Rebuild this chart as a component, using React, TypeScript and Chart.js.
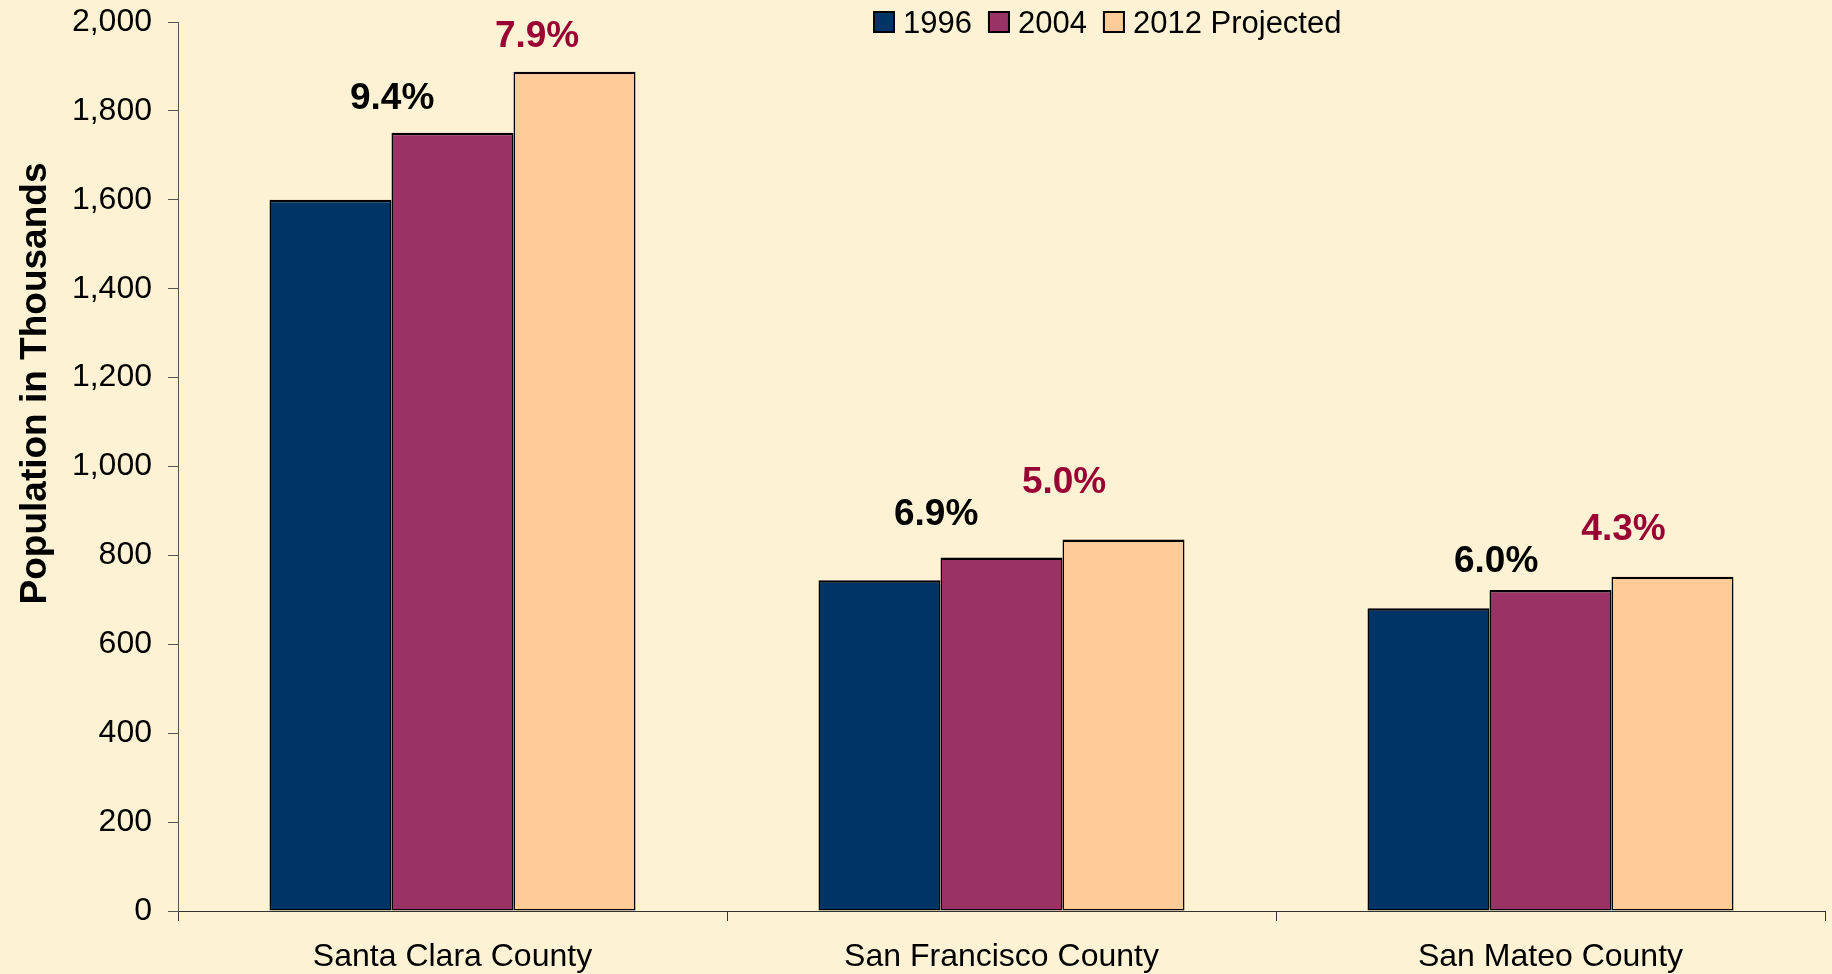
import React, { useEffect, useRef } from "react";
import { Chart, registerables } from "chart.js";

Chart.register(...registerables);

// ---------- data ----------
const categories = ["Santa Clara County", "San Francisco County", "San Mateo County"];
const seriesNames = ["1996", "2004", "2012 Projected"];
const pop1996 = [1600, 744, 681];
const pop2004 = [1751, 795, 722];
const pop2012 = [1888, 836, 752];

const yTickLabels = ["0", "200", "400", "600", "800", "1,000", "1,200", "1,400", "1,600", "1,800", "2,000"];
const yMax = 2000;
const yStep = 200;
const yTitle = "Population in Thousands";

// growth annotations: text, anchor level (in thousands), horizontal shift (in category units)
const growth96to04 = ["9.4%", "6.9%", "6.0%"];
const growth96to04Level = [1828, 891, 785];
const growth96to04Shift = [-0.11, -0.119, -0.099];
const growth04to12 = ["7.9%", "5.0%", "4.3%"];
const growth04to12Level = [1966, 964, 857];
const growth04to12Shift = [0.154, 0.114, 0.133];

// ---------- styles ----------
const BG = "#FEF2D4";
const COLORS = ["#003366", "#993366", "#FFCC99"];
const RED = "#990033";
const FONT = "'Liberation Sans', Arial, sans-serif";

const growthLabelsPlugin = {
  id: "growthLabels",
  afterDatasetsDraw(chart: any) {
    const { ctx } = chart;
    const x = chart.scales.x;
    const y = chart.scales.y;
    ctx.save();
    ctx.font = `bold 37px ${FONT}`;
    ctx.textAlign = "center";
    ctx.textBaseline = "middle";
    const draw = (texts: string[], levels: number[], shifts: number[], color: string) => {
      texts.forEach((t, i) => {
        ctx.fillStyle = color;
        ctx.fillText(t, x.getPixelForValue(i + shifts[i]), y.getPixelForValue(levels[i]));
      });
    };
    draw(growth96to04, growth96to04Level, growth96to04Shift, "#000000");
    draw(growth04to12, growth04to12Level, growth04to12Shift, RED);
    ctx.restore();
  },
};

const legendPlugin = {
  id: "customLegend",
  afterDraw(chart: any) {
    const { ctx } = chart;
    ctx.save();
    ctx.font = `31px ${FONT}`;
    ctx.textAlign = "left";
    ctx.textBaseline = "alphabetic";
    let cx = 873;
    const top = 11;
    const size = 22;
    chart.data.datasets.forEach((ds: any) => {
      ctx.fillStyle = ds.backgroundColor;
      ctx.fillRect(cx, top, size, size);
      ctx.strokeStyle = "#000000";
      ctx.lineWidth = 2;
      ctx.strokeRect(cx + 1, top + 1, size - 2, size - 2);
      ctx.fillStyle = "#000000";
      ctx.fillText(ds.label, cx + size + 8, 33);
      cx += size + 8 + ctx.measureText(ds.label).width + 16;
    });
    ctx.restore();
  },
};

const yTitlePlugin = {
  id: "yTitle",
  afterDraw(chart: any) {
    const { ctx } = chart;
    ctx.save();
    ctx.translate(36, 383.5);
    ctx.rotate(-Math.PI / 2);
    ctx.font = `bold 37px ${FONT}`;
    ctx.textAlign = "center";
    ctx.textBaseline = "middle";
    ctx.fillStyle = "#000000";
    ctx.fillText(yTitle, 0, 0);
    ctx.restore();
  },
};

export default function App() {
  const canvasRef = useRef<HTMLCanvasElement | null>(null);

  useEffect(() => {
    if (!canvasRef.current) return;
    const barBorder = { top: 2.5, left: 1.5, right: 1.5, bottom: 1.5 };
    const chart = new Chart(canvasRef.current, {
      type: "bar",
      data: {
        labels: categories,
        datasets: [
          { label: seriesNames[0], data: pop1996, backgroundColor: COLORS[0], borderColor: "#000000", borderWidth: barBorder, borderSkipped: false },
          { label: seriesNames[1], data: pop2004, backgroundColor: COLORS[1], borderColor: "#000000", borderWidth: barBorder, borderSkipped: false },
          { label: seriesNames[2], data: pop2012, backgroundColor: COLORS[2], borderColor: "#000000", borderWidth: barBorder, borderSkipped: false },
        ],
      },
      options: {
        animation: false,
        responsive: true,
        maintainAspectRatio: false,
        layout: { padding: { top: 22, right: 7, bottom: 0, left: 0 } },
        datasets: { bar: { categoryPercentage: 2 / 3, barPercentage: 1 } },
        plugins: {
          legend: { display: false },
          tooltip: { enabled: false },
          title: { display: false },
        },
        scales: {
          x: {
            type: "category",
            offset: true,
            grid: { display: true, drawOnChartArea: false, drawTicks: true, tickLength: 10, color: "#333333", offset: true },
            border: { display: true, color: "#333333", width: 1 },
            ticks: { color: "#000000", font: { family: FONT, size: 32 }, padding: 17, maxRotation: 0, autoSkip: false },
            afterFit: (scale: any) => {
              scale.height = 63;
              scale.paddingLeft = 0;
              scale.paddingRight = 0;
            },
          },
          y: {
            min: 0,
            max: yMax,
            grid: { display: true, drawOnChartArea: false, drawTicks: true, tickLength: 10, color: "#555555" },
            border: { display: true, color: "#555555", width: 1 },
            ticks: {
              stepSize: yStep,
              color: "#000000",
              font: { family: FONT, size: 32 },
              padding: 16,
              callback: (_v: any, i: number) => yTickLabels[i],
            },
            afterFit: (scale: any) => {
              scale.width = 178;
              scale.paddingTop = 0;
              scale.paddingBottom = 0;
            },
          },
        },
      },
      plugins: [growthLabelsPlugin, legendPlugin, yTitlePlugin],
    });
    return () => chart.destroy();
  }, []);

  return (
    <div style={{ position: "fixed", left: 0, top: 0, width: 1832, height: 974, background: BG }}>
      <canvas ref={canvasRef} />
    </div>
  );
}
